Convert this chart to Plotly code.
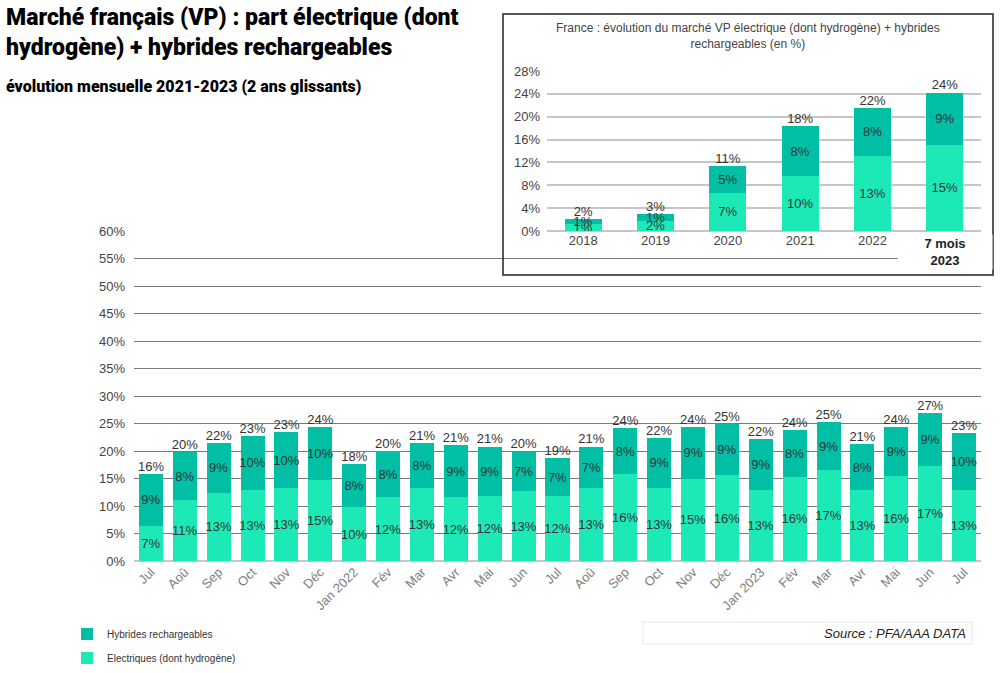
import plotly.graph_objects as go

# ---------------- data : main chart (monthly, 2 rolling years) ----------------
months = ["Jul", "Aoû", "Sep", "Oct", "Nov", "Déc", "Jan 2022", "Fév", "Mar", "Avr", "Mai", "Jun",
          "Jul", "Aoû", "Sep", "Oct", "Nov", "Déc", "Jan 2023", "Fév", "Mar", "Avr", "Mai", "Jun", "Jul"]
elec = [6.4, 11.1, 12.4, 13.0, 13.3, 14.7, 9.8, 11.6, 13.3, 11.6, 11.9, 12.7,
        11.8, 13.3, 15.8, 13.3, 15.0, 15.6, 13.0, 15.3, 16.5, 12.9, 15.5, 17.3, 13.0]
hyb = [9.4, 8.7, 9.1, 9.7, 10.1, 9.7, 7.8, 8.4, 8.1, 9.5, 8.9, 7.2,
       6.9, 7.5, 8.4, 9.1, 9.4, 9.3, 9.2, 8.5, 8.7, 8.3, 8.8, 9.6, 10.3]
elec_labels = [7, 11, 13, 13, 13, 15, 10, 12, 13, 12, 12, 13, 12, 13, 16, 13, 15, 16, 13, 16, 17, 13, 16, 17, 13]
hyb_labels = [9, 8, 9, 10, 10, 10, 8, 8, 8, 9, 9, 7, 7, 7, 8, 9, 9, 9, 9, 8, 9, 8, 9, 9, 10]
total_labels = [16, 20, 22, 23, 23, 24, 18, 20, 21, 21, 21, 20, 19, 21, 24, 22, 24, 25, 22, 24, 25, 21, 24, 27, 23]

# ---------------- data : inset (yearly) ----------------
years = ["2018", "2019", "2020", "2021", "2022", "7 mois 2023"]
year_ticks = ["2018", "2019", "2020", "2021", "2022", ""]
inset_elec = [1.3, 1.8, 6.7, 9.7, 13.2, 15.1]
inset_hyb = [0.8, 1.1, 4.6, 8.6, 8.3, 9.1]
inset_elec_labels = [1, 2, 7, 10, 13, 15]
inset_hyb_labels = [1, 1, 5, 8, 8, 9]
inset_total_labels = [2, 3, 11, 18, 22, 24]

LIGHT = "#1de9b6"
DARK = "#00bfa5"
TXT = "#333333"
W, H = 1000, 673
FONT = "Liberation Sans, Arial, sans-serif"
TITLE_FONT = "Roboto, Liberation Sans, sans-serif"


def px_x(p):
    return p / W


def px_y(p):
    return 1 - p / H


xs = list(range(len(months)))
totals = [a + b for a, b in zip(elec, hyb)]
inset_totals = [a + b for a, b in zip(inset_elec, inset_hyb)]

label_font = dict(color=TXT, size=13, family=FONT)

fig = go.Figure()

# main chart bars
fig.add_trace(go.Bar(
    x=xs, y=elec, name="Electriques (dont hydrogène)", width=0.71,
    marker=dict(color=LIGHT, line=dict(width=0)),
    text=[f"{v}%" for v in elec_labels], textposition="inside", insidetextanchor="middle",
    textangle=0, textfont=label_font, hoverinfo="skip", legend="legend2", xaxis="x", yaxis="y"))
fig.add_trace(go.Bar(
    x=xs, y=hyb, name="Hybrides rechargeables", width=0.71,
    marker=dict(color=DARK, line=dict(width=0)),
    text=[f"{v}%" for v in hyb_labels], textposition="inside", insidetextanchor="middle",
    textangle=0, textfont=label_font, hoverinfo="skip", legend="legend", xaxis="x", yaxis="y"))
fig.add_trace(go.Scatter(
    x=xs, y=totals, mode="text", text=[f"{v}%" for v in total_labels], textposition="top center",
    textfont=label_font, showlegend=False, hoverinfo="skip", xaxis="x", yaxis="y"))

# inset bars
fig.add_trace(go.Bar(
    x=years, y=inset_elec, width=0.51, marker=dict(color=LIGHT, line=dict(width=0)),
    text=[f"{v}%" for v in inset_elec_labels], textposition="inside", insidetextanchor="middle",
    textangle=0, textfont=label_font, showlegend=False, hoverinfo="skip", xaxis="x2", yaxis="y2"))
fig.add_trace(go.Bar(
    x=years, y=inset_hyb, width=0.51, marker=dict(color=DARK, line=dict(width=0)),
    text=[f"{v}%" for v in inset_hyb_labels], textposition="inside", insidetextanchor="middle",
    textangle=0, textfont=label_font, showlegend=False, hoverinfo="skip", xaxis="x2", yaxis="y2"))
fig.add_trace(go.Scatter(
    x=years, y=inset_totals, mode="text", text=[f"{v}%" for v in inset_total_labels],
    textposition="top center", textfont=label_font,
    showlegend=False, hoverinfo="skip", xaxis="x2", yaxis="y2"))

fig.update_layout(
    width=W, height=H, margin=dict(l=0, r=0, t=0, b=0, autoexpand=False),
    paper_bgcolor="white", plot_bgcolor="rgba(0,0,0,0)",
    barmode="stack",
    uniformtext=dict(minsize=13, mode="show"),
    font=dict(family=FONT, color="#444444"),
    xaxis=dict(domain=[px_x(134), px_x(981)], tickmode="array", tickvals=xs, ticktext=months,
               range=[-0.5, len(months) - 0.5], tickangle=-45,
               tickfont=dict(size=13, color="#808080"), showgrid=False, zeroline=False,
               showline=False, ticks=""),
    yaxis=dict(domain=[px_y(561), px_y(231)], range=[0, 60], dtick=5, ticksuffix="%",
               tickfont=dict(size=13, color="#444444"), showgrid=True, gridcolor="#7a7a7a",
               gridwidth=1, zeroline=True, zerolinecolor="#c8c8c8", zerolinewidth=2,
               ticklabelstandoff=8, showline=False),
    xaxis2=dict(domain=[px_x(547), px_x(981)], anchor="y2", tickmode="array", tickvals=years,
                ticktext=year_ticks, range=[-0.5, len(years) - 0.5],
                tickfont=dict(size=13, color="#444444"), showgrid=False,
                zeroline=False, showline=False, ticks=""),
    yaxis2=dict(domain=[px_y(231), px_y(71)], anchor="x2", range=[0, 28], dtick=4, ticksuffix="%",
                tickfont=dict(size=13, color="#444444"), showgrid=True, gridcolor="#c6c6c6",
                gridwidth=1.5, zeroline=True, zerolinecolor="#c6c6c6", zerolinewidth=1.5,
                ticklabelstandoff=6, showline=False),
    legend=dict(x=px_x(67), y=px_y(634), xanchor="left", yanchor="middle",
                font=dict(size=10, color="#333333", family=FONT), bgcolor="rgba(0,0,0,0)"),
    legend2=dict(x=px_x(67), y=px_y(658), xanchor="left", yanchor="middle",
                 font=dict(size=10, color="#333333", family=FONT), bgcolor="rgba(0,0,0,0)"),
    shapes=[
        dict(type="rect", xref="paper", yref="paper", x0=px_x(503), x1=px_x(993),
             y0=px_y(275), y1=px_y(14), line=dict(color="#222222", width=1.5),
             fillcolor="rgba(0,0,0,0)", layer="above"),
        dict(type="rect", xref="paper", yref="paper", x0=px_x(643), x1=px_x(972),
             y0=px_y(644), y1=px_y(622), line=dict(color="#e6e6e6", width=1),
             fillcolor="white", layer="below"),
    ],
    annotations=[
        dict(text="Marché français (VP) : part électrique (dont<br>hydrogène) + hybrides rechargeables",
             xref="paper", yref="paper", x=px_x(4), y=px_y(2), xanchor="left", yanchor="top",
             align="left", showarrow=False,
             font=dict(size=23, color="black", family=TITLE_FONT, weight=900)),
        dict(text="évolution mensuelle 2021-2023 (2 ans glissants)",
             xref="paper", yref="paper", x=px_x(4), y=px_y(75), xanchor="left", yanchor="top",
             align="left", showarrow=False,
             font=dict(size=16, color="black", family=TITLE_FONT, weight=900)),
        dict(text="France : évolution du marché VP électrique (dont hydrogène) + hybrides<br>rechargeables (en %)",
             xref="paper", yref="paper", x=px_x(748), y=px_y(36), xanchor="center", yanchor="middle",
             align="center", showarrow=False, font=dict(size=12, color="#444444")),
        dict(text="<b>7 mois<br>2023</b>", xref="x2", yref="paper", x=years[-1], y=px_y(252),
             xanchor="center", yanchor="middle", align="center", showarrow=False,
             bgcolor="white", width=92, font=dict(size=13, color="#222222")),
        dict(text="<i>Source : PFA/AAA DATA</i>", xref="paper", yref="paper", x=px_x(968), y=px_y(633),
             xanchor="right", yanchor="middle", showarrow=False, font=dict(size=13, color="#222222")),
    ],
)

fig.write_html("out.html", config={"displayModeBar": False},
               post_script="document.body.style.margin='0';")
